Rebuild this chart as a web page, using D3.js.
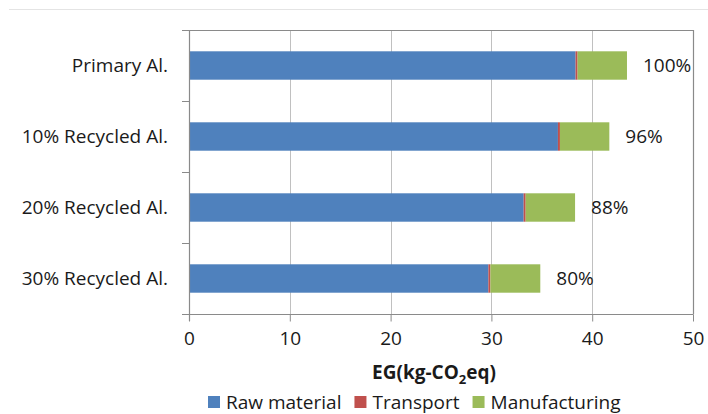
<!DOCTYPE html>
<html>
<head>
<meta charset="utf-8">
<script src="https://cdn.jsdelivr.net/npm/d3@7"></script>
<style>
  html, body { margin: 0; padding: 0; background: #fff; }
  svg { display: block; }
  text { font-family: "Open Sans", Lato, sans-serif; fill: #1a1a1a; }
</style>
</head>
<body>
<svg id="chart" width="708" height="414"></svg>
<script>
// Embodied GHG per alloy option, split by life-cycle stage
const categories = ["Primary Al.", "10% Recycled Al.", "20% Recycled Al.", "30% Recycled Al."];
const rawMaterial = [38.35, 36.6, 33.2, 29.7];
const transport = [0.2, 0.2, 0.2, 0.2];
const manufacturing = [4.9, 4.9, 4.9, 4.95];
const shareLabels = ["100%", "96%", "88%", "80%"];
const seriesNames = ["Raw material", "Transport", "Manufacturing"];
const seriesColors = ["#4F81BD", "#C0504D", "#9BBB59"];
const xTicks = [0, 10, 20, 30, 40, 50];

const FONT = "19px";
const svg = d3.select("#chart");
const W = 708, H = 414;
const m = { left: 189, right: 15, top: 30, bottom: 100 };
const x0 = m.left, x1 = W - m.right, y0 = m.top, y1 = H - m.bottom;

// separator rule above the chart
svg.append("line")
  .attr("x1", 9).attr("x2", W).attr("y1", 9.5).attr("y2", 9.5)
  .attr("stroke", "#e4e4e4").attr("stroke-width", 1);

const x = d3.scaleLinear().domain([0, 50]).range([x0, x1]);
const y = d3.scaleBand().domain(categories).range([y0, y1]).paddingInner(0.6).paddingOuter(0.3);
const yEdge = d3.scaleLinear().domain([0, categories.length]).range([y0, y1]);

// vertical gridlines
svg.append("g").selectAll("line")
  .data(xTicks.filter(t => t > 0 && t < 50))
  .join("line")
  .attr("x1", d => Math.round(x(d)) + 0.5).attr("x2", d => Math.round(x(d)) + 0.5)
  .attr("y1", y0).attr("y2", y1)
  .attr("stroke", "#c0c0c0").attr("stroke-width", 1);

// stacked bars
const rows = categories.map((c, i) => ({
  cat: c, "Raw material": rawMaterial[i], "Transport": transport[i], "Manufacturing": manufacturing[i]
}));
const stacked = d3.stack().keys(seriesNames)(rows);
const color = d3.scaleOrdinal().domain(seriesNames).range(seriesColors);

svg.append("g").selectAll("g")
  .data(stacked)
  .join("g")
  .attr("fill", d => color(d.key))
  .selectAll("rect")
  .data(d => d)
  .join("rect")
  .attr("x", d => x(d[0]))
  .attr("width", d => x(d[1]) - x(d[0]))
  .attr("y", d => y(d.data.cat))
  .attr("height", y.bandwidth());

// percentage labels at the end of each bar
svg.append("g").selectAll("text")
  .data(rows)
  .join("text")
  .attr("x", (d, i) => x(rawMaterial[i] + transport[i] + manufacturing[i]) + 16)
  .attr("y", d => y(d.cat) + y.bandwidth() / 2)
  .attr("dy", "0.36em")
  .style("font-size", FONT)
  .text((d, i) => shareLabels[i]);

// plot frame: top and right edges
svg.append("path")
  .attr("d", `M${x0},${y0 + 0.5}H${x1 + 0.5}V${y1}`)
  .attr("fill", "none").attr("stroke", "#8a8a8a").attr("stroke-width", 1.2);

// x axis
const xAxis = svg.append("g")
  .attr("transform", `translate(0,${y1 + 0.5})`)
  .call(d3.axisBottom(x).tickValues(xTicks).tickSize(7).tickPadding(10).tickFormat(d3.format("d")));
xAxis.select(".domain").attr("stroke", "#8a8a8a").attr("stroke-width", 1.2)
  .attr("d", `M${x0 - 7},0H${x1 + 0.5}`);
xAxis.selectAll(".tick line").attr("stroke", "#8a8a8a");
xAxis.selectAll(".tick text").style("font-size", FONT).style("font-family", "'Open Sans'").attr("fill", "#1a1a1a");

// y axis with ticks between categories
svg.append("line")
  .attr("x1", x0 + 0.5).attr("x2", x0 + 0.5).attr("y1", y0).attr("y2", y1 + 7)
  .attr("stroke", "#8a8a8a").attr("stroke-width", 1.2);
svg.append("g").selectAll("line")
  .data(d3.range(categories.length + 1))
  .join("line")
  .attr("x1", x0 - 7).attr("x2", x0)
  .attr("y1", d => Math.round(yEdge(d)) + 0.5).attr("y2", d => Math.round(yEdge(d)) + 0.5)
  .attr("stroke", "#8a8a8a");

svg.append("g").selectAll("text")
  .data(categories)
  .join("text")
  .attr("x", x0 - 21)
  .attr("y", d => y(d) + y.bandwidth() / 2)
  .attr("dy", "0.36em")
  .attr("text-anchor", "end")
  .style("font-size", FONT)
  .text(d => d);

// axis title
const title = svg.append("text")
  .attr("x", (x0 + x1) / 2 - 7)
  .attr("y", 379)
  .attr("text-anchor", "middle")
  .style("font-size", FONT)
  .style("font-weight", "bold");
title.append("tspan").text("EG(kg-CO");
title.append("tspan").text("2").style("font-size", "13px").attr("dy", 5);
title.append("tspan").text("eq)").attr("dy", -5);

// legend
const legendItems = seriesNames.map((n, i) => ({ name: n, color: seriesColors[i] }));
const legend = svg.append("g").attr("transform", "translate(208,402)");
let offset = 0;
legendItems.forEach(item => {
  const g = legend.append("g").attr("transform", `translate(${offset},0)`);
  g.append("rect").attr("x", 0).attr("y", -6).attr("width", 12).attr("height", 12).attr("fill", item.color);
  const t = g.append("text").attr("x", 18).attr("y", 0).attr("dy", "0.36em")
    .style("font-size", FONT).text(item.name);
  offset += 18 + t.node().getComputedTextLength() + 13;
});
</script>
</body>
</html>
